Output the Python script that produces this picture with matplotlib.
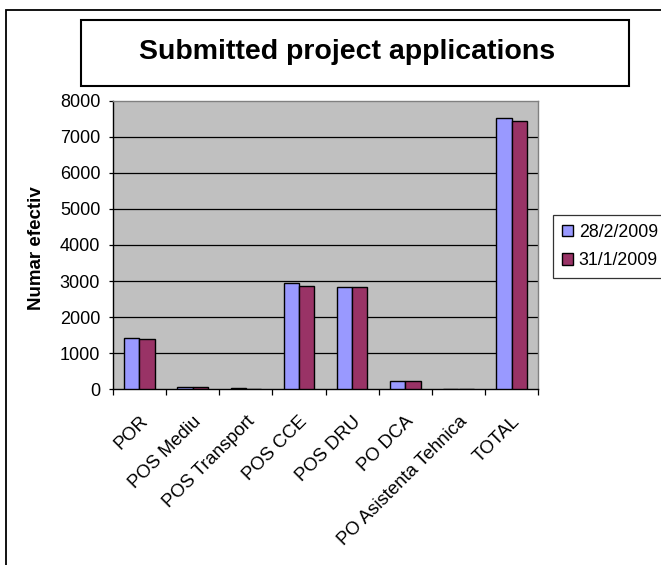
import matplotlib
matplotlib.use("Agg")
import matplotlib.pyplot as plt
from matplotlib.patches import Rectangle
from matplotlib.transforms import ScaledTranslation
import numpy as np

plt.rcParams['font.family'] = ['Liberation Sans', 'DejaVu Sans']

categories = ["POR", "POS Mediu", "POS Transport", "POS CCE", "POS DRU",
              "PO DCA", "PO Asistenta Tehnica", "TOTAL"]
series_names = ["28/2/2009", "31/1/2009"]
values_feb = [1430, 55, 25, 2950, 2845, 220, 0, 7530]
values_jan = [1390, 55, 20, 2870, 2840, 220, 0, 7425]
yticks = [0, 1000, 2000, 3000, 4000, 5000, 6000, 7000, 8000]
title = "Submitted project applications"
ylabel = "Numar efectiv"

W, H = 661, 565
fig = plt.figure(figsize=(W / 100, H / 100), dpi=100)

# outer frame (extends beyond right and bottom edges)
fig.patches.append(Rectangle((6 / W, -0.1), 1.2, 1 - 10 / H + 0.1,
                             transform=fig.transFigure, fill=False,
                             edgecolor='black', linewidth=1.3))

# title box
fig.patches.append(Rectangle((81 / W, 1 - 86 / H), (629 - 81) / W, (86 - 20) / H,
                             transform=fig.transFigure, fill=True, facecolor='white',
                             edgecolor='black', linewidth=1.5))
fig.text(347 / W, 1 - 59 / H, title, ha='center', va='baseline',
         fontsize=20.5, fontweight='bold')

left, right, top, bottom = 112.7, 538.3, 100.6, 389.3
ax = fig.add_axes([left / W, 1 - bottom / H, (right - left) / W, (bottom - top) / H])
ax.set_facecolor('#C0C0C0')

x = np.arange(len(categories))
bw = 1 / 3.5
ax.bar(x - bw / 2, values_feb, width=bw, color='#9999FF', edgecolor='black',
       linewidth=1.0, label=series_names[0], zorder=3)
ax.bar(x + bw / 2, values_jan, width=bw, color='#993366', edgecolor='black',
       linewidth=1.0, label=series_names[1], zorder=3)

ax.set_xlim(-0.5, len(categories) - 0.5)
ax.set_ylim(0, 8000)
ax.set_yticks(yticks)
ax.set_yticklabels([str(v) for v in yticks], fontsize=13)
for v in yticks[1:-1]:
    ax.axhline(v, color='black', linewidth=0.9, zorder=1)

ax.set_xticks(np.arange(len(categories) + 1) - 0.5)
ax.set_xticklabels([])
ax.set_xticks(x, minor=True)
labels = ax.set_xticklabels(categories, minor=True, rotation=45, ha='right',
                            va='top', rotation_mode='anchor', fontsize=13.3)
shift = ScaledTranslation(-7 / 100, 0, fig.dpi_scale_trans)
for lab in labels:
    lab.set_transform(lab.get_transform() + shift)
ax.tick_params(axis='x', which='major', direction='out', length=4.5, width=0.9)
ax.tick_params(axis='x', which='minor', length=0, pad=17)
ax.tick_params(axis='y', direction='out', length=3, width=0.9, pad=6)

for s in ['top', 'right']:
    ax.spines[s].set_color('#808080')
    ax.spines[s].set_linewidth(1.0)
for s in ['left', 'bottom']:
    ax.spines[s].set_color('black')
    ax.spines[s].set_linewidth(1.0)

fig.text(36.7 / W, 1 - 248.5 / H, ylabel, rotation=90, ha='center', va='center',
         fontsize=13.5, fontweight='bold')

leg = ax.legend(loc='upper left', bbox_to_anchor=(552.7 / W, 1 - 215 / H),
                bbox_transform=fig.transFigure, fontsize=12.8, frameon=True,
                fancybox=False, shadow=False, handlelength=0.62, handleheight=0.62,
                handletextpad=0.35, borderpad=0.5, labelspacing=0.65,
                borderaxespad=0)
leg.get_frame().set_edgecolor('black')
leg.get_frame().set_linewidth(0.9)

fig.savefig("out.png", dpi=100)
